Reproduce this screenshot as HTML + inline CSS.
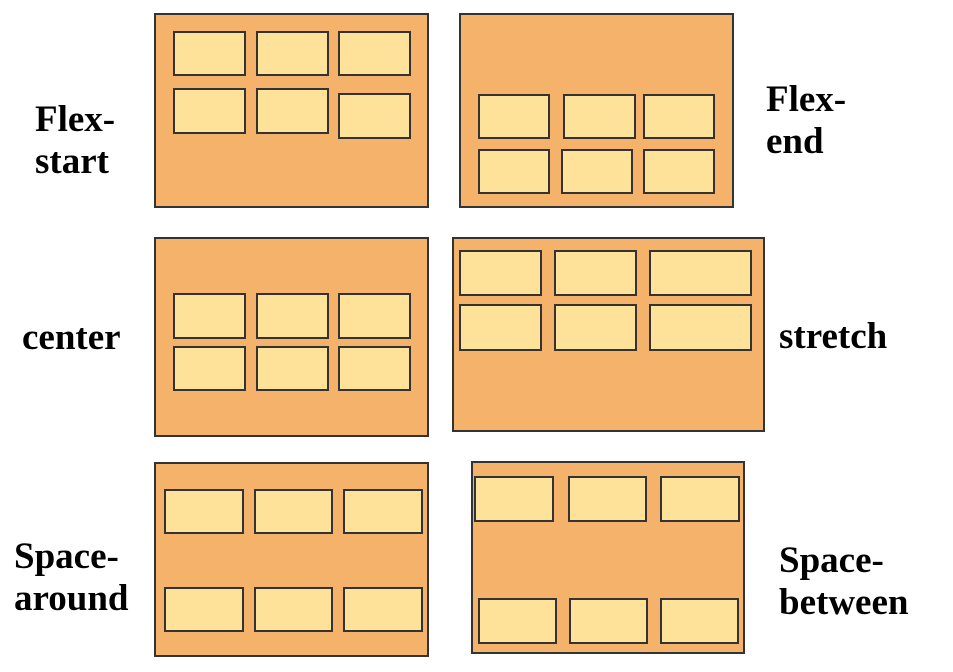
<!DOCTYPE html>
<html><head><style>
body{margin:0;width:953px;height:672px;background:#fff;position:relative;overflow:hidden}
.c{position:absolute;background:#F4B26A;border:2px solid #333;box-sizing:border-box}
.i{position:absolute;background:#FEE299;border:2px solid #333;box-sizing:border-box}
.t{position:absolute;font-family:"Liberation Serif",serif;font-weight:bold;font-size:37px;line-height:42px;color:#000;white-space:nowrap}
</style></head><body>
<div class="c" style="left:154px;top:13px;width:275px;height:195px"></div>
<div class="i" style="left:173px;top:31px;width:73px;height:45px"></div>
<div class="i" style="left:256px;top:31px;width:73px;height:45px"></div>
<div class="i" style="left:338px;top:31px;width:73px;height:45px"></div>
<div class="i" style="left:173px;top:88px;width:73px;height:46px"></div>
<div class="i" style="left:256px;top:88px;width:73px;height:46px"></div>
<div class="i" style="left:338px;top:93px;width:73px;height:46px"></div>

<div class="c" style="left:459px;top:13px;width:275px;height:195px"></div>
<div class="i" style="left:478px;top:94px;width:72px;height:45px"></div>
<div class="i" style="left:563px;top:94px;width:73px;height:45px"></div>
<div class="i" style="left:643px;top:94px;width:72px;height:45px"></div>
<div class="i" style="left:478px;top:149px;width:72px;height:45px"></div>
<div class="i" style="left:561px;top:149px;width:72px;height:45px"></div>
<div class="i" style="left:643px;top:149px;width:72px;height:45px"></div>

<div class="c" style="left:154px;top:237px;width:275px;height:200px"></div>
<div class="i" style="left:173px;top:293px;width:73px;height:46px"></div>
<div class="i" style="left:256px;top:293px;width:73px;height:46px"></div>
<div class="i" style="left:338px;top:293px;width:73px;height:46px"></div>
<div class="i" style="left:173px;top:346px;width:73px;height:45px"></div>
<div class="i" style="left:256px;top:346px;width:73px;height:45px"></div>
<div class="i" style="left:338px;top:346px;width:73px;height:45px"></div>

<div class="c" style="left:452px;top:237px;width:313px;height:195px"></div>
<div class="i" style="left:459px;top:250px;width:83px;height:46px"></div>
<div class="i" style="left:554px;top:250px;width:83px;height:46px"></div>
<div class="i" style="left:649px;top:250px;width:103px;height:46px"></div>
<div class="i" style="left:459px;top:304px;width:83px;height:47px"></div>
<div class="i" style="left:554px;top:304px;width:83px;height:47px"></div>
<div class="i" style="left:649px;top:304px;width:103px;height:47px"></div>

<div class="c" style="left:154px;top:462px;width:275px;height:195px"></div>
<div class="i" style="left:164px;top:489px;width:80px;height:45px"></div>
<div class="i" style="left:254px;top:489px;width:79px;height:45px"></div>
<div class="i" style="left:343px;top:489px;width:80px;height:45px"></div>
<div class="i" style="left:164px;top:587px;width:80px;height:45px"></div>
<div class="i" style="left:254px;top:587px;width:79px;height:45px"></div>
<div class="i" style="left:343px;top:587px;width:80px;height:45px"></div>

<div class="c" style="left:471px;top:461px;width:274px;height:193px"></div>
<div class="i" style="left:474px;top:476px;width:80px;height:46px"></div>
<div class="i" style="left:568px;top:476px;width:79px;height:46px"></div>
<div class="i" style="left:660px;top:476px;width:80px;height:46px"></div>
<div class="i" style="left:478px;top:598px;width:79px;height:46px"></div>
<div class="i" style="left:569px;top:598px;width:79px;height:46px"></div>
<div class="i" style="left:660px;top:598px;width:79px;height:46px"></div>

<div class="t" style="left:35px;top:99px">Flex-<br>start</div>
<div class="t" style="left:766px;top:79px">Flex-<br>end</div>
<div class="t" style="left:22px;top:317px">center</div>
<div class="t" style="left:779px;top:316px">stretch</div>
<div class="t" style="left:14px;top:536px">Space-<br>around</div>
<div class="t" style="left:779px;top:540px">Space-<br>between</div>
</body></html>
